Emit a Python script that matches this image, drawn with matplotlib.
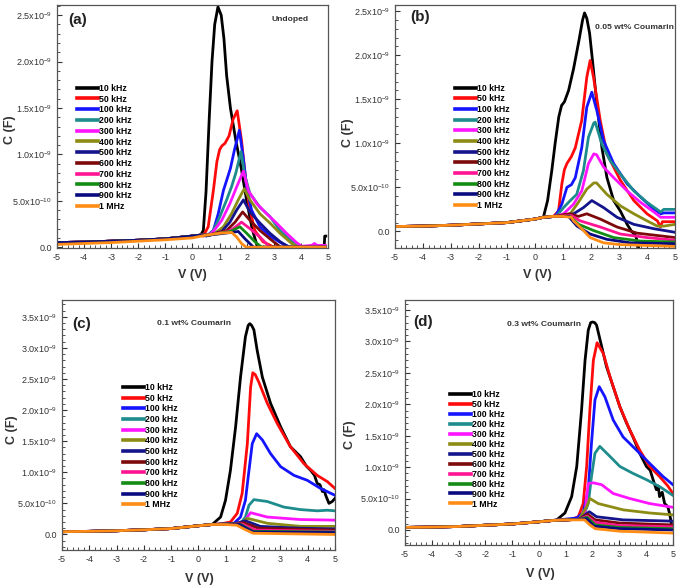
import numpy as np
import matplotlib
matplotlib.use("Agg")
import matplotlib.pyplot as plt
from matplotlib.ticker import FuncFormatter, MultipleLocator, AutoMinorLocator

plt.rcParams['font.family'] = ['Liberation Sans', 'DejaVu Sans']
plt.rcParams['mathtext.default'] = 'regular'
plt.rcParams['axes.unicode_minus'] = False

# ---------------- data (C in units of 1e-9 F, V in volts) ----------------
FREQS = ['10 kHz', '50 kHz', '100 kHz', '200 kHz', '300 kHz', '400 kHz', '500 kHz',
         '600 kHz', '700 kHz', '800 kHz', '900 kHz', '1 MHz']
COLORS = ['#000000', '#ff0a0a', '#1414ff', '#1e8c8c', '#ff14ff', '#8c8c14', '#14148c',
          '#7d0a0a', '#ff1493', '#148c14', '#0a0a80', '#ff8c14']

# Panel (a) undoped
BASE_A_V = [-5, -4, -3, -2, -1, 0, 0.3]
BASE_A_C = [0.05, 0.055, 0.065, 0.075, 0.09, 0.12, 0.13]
A10 = ([0.4, 0.5, 0.62, 0.72, 0.82, 0.94, 1.06, 1.16, 1.26, 1.4, 1.6, 1.8, 2.0, 2.2, 2.4, 4.86, 4.88, 4.92],
       [0.18, 0.6, 1.4, 2.0, 2.4, 2.59, 2.5, 2.25, 1.85, 1.5, 1.15, 0.85, 0.5, 0.2, 0.0, 0.0, 0.12, 0.12])
A50 = ([0.4, 0.58, 0.77, 0.9, 1.0, 1.08, 1.2, 1.35, 1.5, 1.65, 1.81, 1.94, 2.1, 2.3, 2.6, 3.0, 4.9],
       [0.12, 0.22, 0.61, 0.92, 1.05, 1.09, 1.12, 1.2, 1.38, 1.47, 1.15, 0.79, 0.43, 0.18, 0.06, 0.0, 0.0])
A100 = ([0.52, 0.77, 0.95, 1.14, 1.26, 1.4, 1.55, 1.73, 1.87, 2.0, 2.18, 2.49, 2.86, 3.25, 3.6, 4.9],
        [0.12, 0.18, 0.36, 0.61, 0.72, 0.85, 1.05, 1.26, 0.97, 0.65, 0.4, 0.22, 0.12, 0.05, 0.0, 0.0])
A200 = ([0.6, 0.77, 1.01, 1.26, 1.44, 1.6, 1.79, 1.94, 2.12, 2.49, 2.86, 3.23, 3.6, 3.97, 4.9],
        [0.13, 0.18, 0.33, 0.51, 0.65, 0.8, 1.03, 0.76, 0.58, 0.43, 0.33, 0.18, 0.08, 0.0, 0.0])
A300 = ([0.6, 0.77, 1.08, 1.38, 1.63, 1.88, 2.06, 2.37, 2.74, 3.1, 3.47, 3.84, 4.03, 4.4, 4.5, 4.6, 4.9],
        [0.13, 0.17, 0.29, 0.47, 0.65, 0.82, 0.61, 0.47, 0.36, 0.26, 0.15, 0.05, 0.01, 0.02, 0.04, 0.02, 0.02])
A400 = ([0.6, 0.83, 1.14, 1.44, 1.69, 1.91, 2.12, 2.49, 2.86, 3.23, 3.66, 3.9, 4.9],
        [0.13, 0.15, 0.22, 0.36, 0.51, 0.63, 0.51, 0.36, 0.26, 0.15, 0.04, 0.0, 0.0])
A500 = ([0.6, 1.08, 1.38, 1.63, 1.88, 2.12, 2.49, 2.86, 3.23, 3.55, 4.9],
        [0.13, 0.17, 0.27, 0.40, 0.51, 0.38, 0.26, 0.15, 0.06, 0.0, 0.0])
A600 = ([0.6, 1.26, 1.57, 1.85, 2.12, 2.49, 2.86, 3.25, 4.9],
        [0.13, 0.18, 0.27, 0.38, 0.29, 0.18, 0.09, 0.0, 0.0])
A700 = ([0.6, 1.3, 1.5, 1.81, 2.12, 2.49, 2.85, 4.9],
        [0.13, 0.17, 0.2, 0.27, 0.2, 0.11, 0.0, 0.0])
A800 = ([0.6, 1.4, 1.75, 2.0, 2.3, 2.55, 4.9],
        [0.13, 0.17, 0.22, 0.15, 0.06, 0.0, 0.0])
A900 = ([0.6, 1.45, 1.69, 1.94, 2.25, 4.9],
        [0.13, 0.16, 0.17, 0.09, 0.0, 0.0])
A1M_V = [-5, -4, -3, -2, -1, 0, 0.5, 1.0, 1.44, 1.63, 1.81, 1.98, 4.9]
A1M_C = [0.03, 0.04, 0.05, 0.065, 0.08, 0.1, 0.13, 0.15, 0.16, 0.11, 0.04, 0.0, 0.0]

# Panel (b) 0.05 wt%
BASE_B_V = [-5, -4, -3, -2, -1, 0, 0.3]
BASE_B_C = [0.055, 0.06, 0.07, 0.085, 0.1, 0.14, 0.16]
B10 = ([0.45, 0.6, 0.72, 0.85, 0.95, 1.05, 1.2, 1.38, 1.56, 1.7, 1.77, 1.85, 1.95, 2.05, 2.21, 2.39, 2.57,
        2.81, 3.05, 3.29, 3.45, 3.6, 3.75, 5.0],
       [0.35, 0.69, 1.0, 1.3, 1.43, 1.47, 1.6, 1.85, 2.15, 2.4, 2.48, 2.42, 2.25, 1.95, 1.45, 0.95, 0.61,
        0.35, 0.23, 0.08, 0.0, -0.05, -0.25, -0.25])
B50 = ([0.66, 0.84, 0.96, 1.05, 1.14, 1.3, 1.44, 1.67, 1.85, 1.97, 2.09, 2.33, 2.57, 3.05, 3.53, 4.0, 4.37,
        4.48, 4.55, 5.0],
       [0.17, 0.23, 0.54, 0.7, 0.77, 0.85, 0.95, 1.26, 1.75, 1.94, 1.75, 1.26, 0.88, 0.58, 0.35, 0.2, 0.12,
        0.05, 0.11, 0.11])
B100 = ([0.7, 0.78, 0.96, 1.14, 1.3, 1.44, 1.67, 1.85, 2.03, 2.21, 2.45, 2.81, 3.29, 3.77, 4.25, 4.5, 4.6, 5.0],
        [0.17, 0.2, 0.31, 0.5, 0.53, 0.61, 0.95, 1.41, 1.58, 1.37, 1.03, 0.77, 0.54, 0.39, 0.25, 0.2, 0.21, 0.21])
B200 = ([0.7, 0.78, 1.02, 1.26, 1.49, 1.73, 1.91, 2.1, 2.15, 2.39, 2.69, 3.05, 3.53, 4.0, 4.49, 4.6, 5.0],
        [0.17, 0.18, 0.27, 0.35, 0.42, 0.69, 1.07, 1.23, 1.24, 0.99, 0.8, 0.65, 0.46, 0.33, 0.22, 0.25, 0.25])
B300 = ([0.7, 1.02, 1.38, 1.67, 1.91, 2.1, 2.2, 2.45, 2.81, 3.29, 3.77, 4.25, 4.49, 5.0],
        [0.17, 0.2, 0.31, 0.46, 0.77, 0.88, 0.87, 0.73, 0.61, 0.46, 0.33, 0.22, 0.16, 0.16])
B400 = ([0.7, 1.26, 1.55, 1.85, 2.1, 2.2, 2.57, 3.05, 3.53, 4.0, 4.37, 4.6, 5.0],
        [0.17, 0.2, 0.33, 0.48, 0.55, 0.55, 0.42, 0.29, 0.2, 0.12, 0.06, 0.06, 0.08])
B500 = ([0.7, 1.38, 1.73, 2.03, 2.45, 2.93, 3.53, 4.25, 5.0],
        [0.17, 0.2, 0.27, 0.35, 0.27, 0.16, 0.08, 0.03, -0.01])
B600 = ([0.7, 1.25, 1.55, 1.85, 2.33, 2.93, 3.65, 5.0],
        [0.17, 0.2, 0.17, 0.2, 0.14, 0.05, -0.02, -0.07])
B700 = ([0.7, 1.3, 1.61, 2.33, 3.05, 4.0, 5.0],
        [0.17, 0.18, 0.12, 0.05, -0.03, -0.07, -0.1])
B800 = ([0.7, 1.25, 1.56, 2.09, 2.81, 3.77, 5.0],
        [0.17, 0.17, 0.08, 0.01, -0.07, -0.11, -0.12])
B900 = ([0.7, 1.2, 1.5, 1.97, 2.57, 3.41, 5.0],
        [0.17, 0.17, 0.06, -0.03, -0.09, -0.13, -0.14])
B1M = ([0.6, 1.0, 1.3, 1.38, 1.67, 1.97, 2.45, 3.05, 5.0],
       [0.17, 0.17, 0.16, 0.12, 0.03, -0.07, -0.13, -0.15, -0.17])

# Panel (c) 0.1 wt%
BASE_C_V = [-5, -4, -3, -2, -1, 0, 0.5]
BASE_C_C = [0.045, 0.05, 0.06, 0.075, 0.095, 0.14, 0.16]
C10 = ([0.81, 0.99, 1.17, 1.36, 1.54, 1.72, 1.82, 1.88, 1.95, 2.03, 2.15, 2.34, 2.64, 3.01, 3.37, 3.74, 3.95,
        4.11, 4.25, 4.35, 4.45, 4.54, 4.6, 4.66, 4.78, 4.9, 5.0],
       [0.28, 0.55, 1.03, 1.73, 2.53, 3.18, 3.36, 3.39, 3.36, 3.29, 2.96, 2.53, 2.11, 1.73, 1.41, 1.25, 1.1,
        1.03, 0.95, 0.82, 0.8, 0.69, 0.72, 0.63, 0.5, 0.53, 0.58])
C50 = ([0.81, 1.17, 1.42, 1.6, 1.79, 1.91, 1.99, 2.08, 2.21, 2.52, 2.89, 3.37, 3.86, 4.35, 4.72, 5.0],
       [0.17, 0.2, 0.34, 0.66, 1.46, 2.37, 2.6, 2.57, 2.45, 2.11, 1.78, 1.41, 1.14, 0.95, 0.85, 0.74])
C100 = ([1.0, 1.3, 1.54, 1.72, 1.85, 1.97, 2.13, 2.34, 2.64, 3.01, 3.5, 3.99, 4.47, 5.0],
        [0.17, 0.18, 0.28, 0.55, 1.03, 1.46, 1.62, 1.52, 1.3, 1.09, 0.95, 0.87, 0.74, 0.63])
C200 = ([1.2, 1.55, 1.72, 1.85, 2.03, 2.52, 3.13, 3.74, 4.35, 4.72, 5.0],
        [0.17, 0.18, 0.28, 0.47, 0.56, 0.53, 0.44, 0.4, 0.38, 0.39, 0.38])
C300 = ([1.3, 1.66, 1.79, 1.91, 2.52, 3.74, 5.0],
        [0.17, 0.18, 0.28, 0.35, 0.28, 0.24, 0.23])
C400 = ([1.3, 1.6, 1.79, 2.52, 3.74, 5.0],
        [0.17, 0.18, 0.26, 0.18, 0.13, 0.13])
C500 = ([1.3, 1.72, 2.27, 3.74, 5.0],
        [0.17, 0.22, 0.13, 0.1, 0.09])
C600 = ([1.3, 1.65, 2.2, 5.0], [0.17, 0.19, 0.1, 0.07])
C700 = ([1.3, 1.6, 2.1, 5.0], [0.17, 0.17, 0.07, 0.05])
C800 = ([1.3, 1.55, 2.0, 5.0], [0.17, 0.16, 0.05, 0.04])
C900 = ([1.3, 1.5, 2.0, 5.0], [0.17, 0.16, 0.04, 0.03])
C1M = ([1.0, 1.4, 1.7, 2.0, 5.0], [0.16, 0.15, 0.08, 0.02, 0.0])

# Panel (d) 0.3 wt%
BASE_D_V = [-5, -4, -3, -2, -1, 0, 0.5]
BASE_D_C = [0.04, 0.045, 0.055, 0.075, 0.095, 0.13, 0.15]
D10 = ([0.66, 0.97, 1.22, 1.41, 1.59, 1.72, 1.84, 1.93, 2.0, 2.08, 2.15, 2.34, 2.52, 2.77, 3.02, 3.27, 3.51,
        3.76, 4.01, 4.15, 4.26, 4.38, 4.45, 4.5, 4.6, 4.69, 4.81, 4.88, 4.94],
       [0.16, 0.27, 0.53, 1.01, 1.91, 2.7, 3.18, 3.3, 3.31, 3.3, 3.26, 2.92, 2.6, 2.28, 1.96, 1.7, 1.48,
        1.22, 1.01, 0.95, 0.8, 0.64, 0.7, 0.53, 0.6, 0.42, 0.37, 0.25, 0.1])
D50 = ([1.16, 1.47, 1.65, 1.78, 1.9, 2.03, 2.17, 2.4, 2.65, 3.02, 3.39, 3.76, 4.13, 4.5, 4.81, 5.0],
       [0.16, 0.21, 0.42, 1.01, 1.91, 2.7, 2.98, 2.81, 2.44, 1.96, 1.59, 1.27, 1.01, 0.85, 0.7, 0.58])
D100 = ([1.41, 1.65, 1.84, 1.96, 2.09, 2.25, 2.46, 2.77, 3.14, 3.64, 4.13, 4.63, 5.0],
        [0.19, 0.27, 0.64, 1.38, 2.07, 2.28, 2.12, 1.75, 1.48, 1.27, 1.06, 0.85, 0.72])
D200 = ([1.5, 1.65, 1.84, 1.96, 2.09, 2.27, 2.65, 3.02, 3.51, 4.01, 4.5, 5.0],
        [0.17, 0.21, 0.42, 0.85, 1.22, 1.33, 1.17, 1.01, 0.9, 0.8, 0.69, 0.55])
D300 = ([1.5, 1.72, 1.78, 1.84, 2.03, 2.34, 2.77, 3.39, 4.13, 5.0],
        [0.17, 0.27, 0.53, 0.74, 0.75, 0.72, 0.58, 0.5, 0.42, 0.36])
D400 = ([1.5, 1.78, 1.9, 2.21, 3.14, 4.13, 5.0],
        [0.17, 0.37, 0.5, 0.42, 0.32, 0.27, 0.24])
D500 = ([1.5, 1.75, 1.88, 2.15, 3.14, 5.0], [0.17, 0.25, 0.29, 0.21, 0.16, 0.14])
D600 = ([1.5, 1.82, 2.1, 3.0, 5.0], [0.17, 0.25, 0.16, 0.11, 0.08])
D700 = ([1.5, 1.8, 2.1, 3.0, 5.0], [0.17, 0.22, 0.12, 0.07, 0.05])
D800 = ([1.5, 1.8, 2.1, 3.0, 5.0], [0.17, 0.2, 0.08, 0.04, 0.02])
D900 = ([1.5, 1.78, 2.05, 3.0, 5.0], [0.17, 0.18, 0.06, 0.02, 0.0])
D1M = ([1.0, 1.7, 1.9, 2.1, 3.0, 5.0], [0.16, 0.16, 0.08, 0.02, -0.02, -0.05])

# ---------------- figure ----------------
fig = plt.figure(figsize=(6.85, 5.88), dpi=100)

def fmt(v, pos):
    if abs(v) < 1e-6:
        return '0.0'
    if v < 1:
        return '%.1fx10$^{-10}$' % (v * 10)
    return '%.1fx10$^{-9}$' % v

panels = [
    dict(rect=[0.0832, 0.578, 0.3956, 0.4135], ylim=(-0.01, 2.61), ymax=2.5, base=(BASE_A_V, BASE_A_C),
         series=[A10, A50, A100, A200, A300, A400, A500, A600, A700, A800, A900], last=(A1M_V, A1M_C),
         tag='(a)', tagpos=(0.04, 0.967), note='Undoped', notepos=(0.793, 0.942),
         leg=(0.074, 0.676), ls=0.2, xl=(0.498, -0.085), yl=(-0.150, 0.486)),
    dict(rect=[0.5766, 0.578, 0.4088, 0.4135], ylim=(-0.19, 2.57), ymax=2.5, base=(BASE_B_V, BASE_B_C),
         series=[B10, B50, B100, B200, B300, B400, B500, B600, B700, B800, B900, B1M], last=None,
         tag='(b)', tagpos=(0.054, 0.979), note='0.05 wt% Coumarin', notepos=(0.714, 0.909),
         leg=(0.214, 0.676), ls=0.19, xl=(0.507, -0.085), yl=(-0.147, 0.473)),
    dict(rect=[0.0905, 0.0646, 0.3985, 0.4252], ylim=(-0.25, 3.77), ymax=3.5, base=(BASE_C_V, BASE_C_C),
         series=[C10, C50, C100, C200, C300, C400, C500, C600, C700, C800, C900, C1M], last=None,
         tag='(c)', tagpos=(0.037, 0.93), note='0.1 wt% Coumarin', notepos=(0.348, 0.904),
         leg=(0.222, 0.668), ls=0.19, xl=(0.505, -0.09), yl=(-0.161, 0.48)),
    dict(rect=[0.5912, 0.0731, 0.3912, 0.4167], ylim=(-0.24, 3.66), ymax=3.5, base=(BASE_D_V, BASE_D_C),
         series=[D10, D50, D100, D200, D300, D400, D500, D600, D700, D800, D900, D1M], last=None,
         tag='(d)', tagpos=(0.03, 0.94), note='0.3 wt% Coumarin', notepos=(0.38, 0.902),
         leg=(0.168, 0.633), ls=0.11, xl=(0.504, -0.092), yl=(-0.183, 0.449)),
]

for p in panels:
    ax = fig.add_axes(p['rect'])
    bv, bc = p['base']
    allseries = list(p['series'])
    for i, s in enumerate(allseries):
        v = list(bv) + list(s[0])
        c = list(bc) + list(s[1])
        ax.plot(v, c, color=COLORS[i], lw=2.0, label=FREQS[i], solid_joinstyle='round')
    if p['last'] is not None:
        ax.plot(p['last'][0], p['last'][1], color=COLORS[11], lw=2.0, label=FREQS[11],
                solid_joinstyle='round')
    ax.set_xlim(-5, 5)
    ax.set_ylim(*p['ylim'])
    ax.xaxis.set_major_locator(MultipleLocator(1))
    ax.xaxis.set_minor_locator(AutoMinorLocator(5))
    ax.set_yticks(np.arange(0, p['ymax'] + 0.01, 0.5))
    ax.yaxis.set_minor_locator(AutoMinorLocator(5))
    ax.yaxis.set_major_formatter(FuncFormatter(fmt))
    ax.tick_params(which='both', direction='in', labelsize=6.5, colors='#333333', labelcolor='#333333')
    ax.tick_params(which='major', length=3.5, width=0.8)
    ax.tick_params(which='minor', length=2, width=0.6)
    for sp in ax.spines.values():
        sp.set_color('#555555')
        sp.set_linewidth(0.9)
    ax.set_xlabel('V (V)', fontsize=9, fontweight='bold', color='#333333')
    ax.set_ylabel('C (F)', fontsize=9, fontweight='bold', color='#333333')
    ax.xaxis.set_label_coords(*p['xl'])
    ax.yaxis.set_label_coords(*p['yl'])
    ax.text(p['tagpos'][0], p['tagpos'][1], p['tag'], transform=ax.transAxes, fontsize=11,
            fontweight='bold', va='top', ha='left', color='#222222')
    ax.text(p['notepos'][0], p['notepos'][1], p['note'], transform=ax.transAxes, fontsize=6.1,
            fontweight='bold', va='center', ha='left', color='#333333')
    leg = ax.legend(loc='upper left', bbox_to_anchor=p['leg'], frameon=False,
                    prop={'size': 6.3, 'weight': 'bold'}, handlelength=2.4, handletextpad=0.15,
                    labelspacing=p['ls'], borderaxespad=0, borderpad=0)
    for ln in leg.get_lines():
        ln.set_linewidth(2.6)

fig.savefig('out.png', dpi=100)
